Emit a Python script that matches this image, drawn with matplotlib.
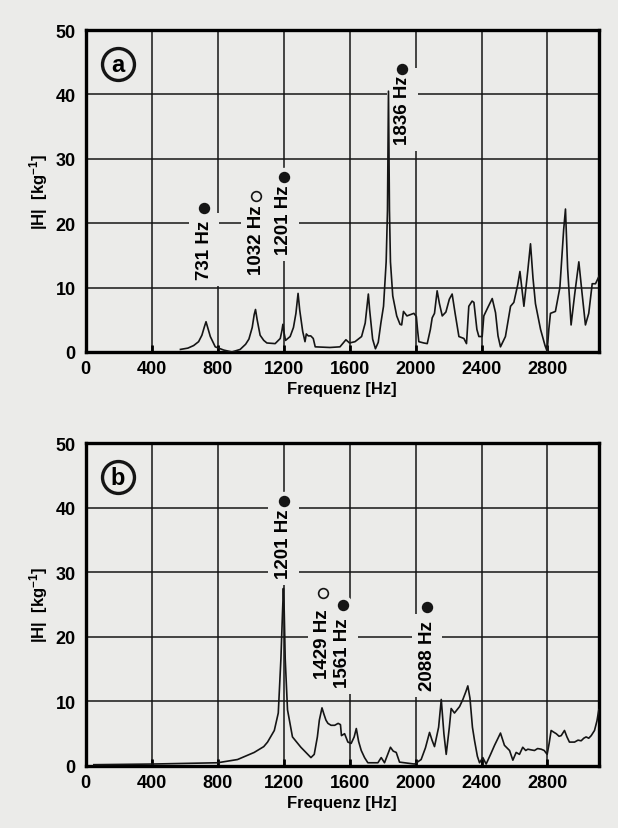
import numpy as np
import matplotlib
matplotlib.use('Agg')
import matplotlib.pyplot as plt

plt.rcParams['font.family'] = ['Liberation Sans', 'DejaVu Sans']
plt.rcParams['font.weight'] = 'bold'
plt.rcParams['mathtext.fontset'] = 'custom'
plt.rcParams['mathtext.rm'] = 'Liberation Sans:bold'
plt.rcParams['mathtext.bf'] = 'Liberation Sans:bold'
plt.rcParams['mathtext.default'] = 'regular'

# (a) Frequenzgang
freq_a = [575, 620, 655, 685, 705, 720, 730, 740, 756, 786, 837, 887, 937, 970, 990,
          1010, 1022, 1030, 1040, 1058, 1080, 1099, 1149, 1180, 1190, 1196, 1203, 1212,
          1240, 1260, 1275, 1288, 1298, 1316, 1330, 1338, 1350, 1365, 1380, 1392, 1481,
          1542, 1565, 1578, 1600, 1633, 1673, 1695, 1708, 1714, 1722, 1740, 1757, 1774,
          1790, 1806, 1822, 1830, 1836, 1842, 1848, 1862, 1886, 1906, 1916, 1927, 1948,
          1970, 1990, 2005, 2012, 2020, 2050, 2071, 2090, 2101, 2115, 2131, 2145, 2162,
          2184, 2205, 2222, 2240, 2263, 2293, 2309, 2323, 2343, 2354, 2372, 2384, 2404,
          2414, 2440, 2465, 2485, 2500, 2515, 2545, 2576, 2596, 2620, 2633, 2657, 2680,
          2697, 2712, 2727, 2758, 2785, 2798, 2808, 2818, 2848, 2875, 2898, 2909, 2922,
          2943, 2965, 2990, 3010, 3030, 3050, 3071, 3091, 3115]
H_a = [0.4, 0.6, 1.0, 1.6, 2.6, 3.9, 4.7, 3.8, 2.4, 0.8, 0.3, 0.0, 0.4, 1.2, 2.0,
       3.8, 5.8, 6.6, 5.0, 2.6, 1.8, 1.4, 1.3, 2.1, 3.3, 4.3, 3.0, 1.8,
       2.4, 3.8, 6.0, 9.1, 6.5, 3.2, 1.6, 2.8, 2.5, 2.5, 2.1, 0.8, 0.7,
       0.8, 1.5, 1.9, 1.4, 1.6, 2.4, 4.5, 7.5, 9.0, 6.5, 2.0, 0.5, 1.5,
       4.5, 7.1, 14.0, 22.0, 40.5, 22.0, 14.0, 8.7, 5.6, 4.3, 4.2, 6.3, 5.6,
       5.8, 6.0, 5.5, 3.5, 1.6, 1.4, 1.3, 3.5, 5.3, 6.0, 9.5, 7.5, 5.6,
       6.2, 8.2, 9.0, 6.0, 2.4, 2.1, 1.3, 7.1, 7.9, 7.7, 3.5, 2.4, 2.4,
       5.6, 7.0, 8.3, 6.1, 2.5, 0.8, 2.4, 7.1, 7.7, 10.5, 12.5, 7.1, 12.5,
       16.8, 11.5, 7.5, 3.5, 1.0, 0.1, 3.5, 6.0, 6.3, 10.0, 19.0, 22.2, 13.0,
       4.2, 9.0, 14.0, 9.0, 4.2, 6.0, 10.6, 10.6, 11.9]

# (b)
freq_b = [50, 400, 800, 921, 1022, 1080, 1103, 1144, 1168, 1184, 1194, 1199, 1204, 1210,
          1224, 1254, 1305, 1366, 1386, 1405, 1417, 1433, 1445, 1457, 1469, 1488, 1510,
          1531, 1545, 1551, 1570, 1590, 1610, 1628, 1641, 1655, 1671, 1691, 1711, 1772,
          1792, 1812, 1848, 1865, 1883, 1903, 1994, 2034, 2060, 2085, 2100, 2115, 2140,
          2156, 2172, 2186, 2205, 2216, 2236, 2267, 2287, 2305, 2317, 2330, 2345, 2358,
          2375, 2388, 2408, 2428, 2455, 2479, 2500, 2515, 2539, 2570, 2590, 2610, 2630,
          2650, 2668, 2681, 2700, 2721, 2740, 2762, 2780, 2798, 2810, 2822, 2840, 2853,
          2870, 2883, 2903, 2918, 2933, 2964, 2985, 3004, 3020, 3034, 3050, 3065, 3085,
          3100, 3111]
H_b = [0.2, 0.3, 0.5, 1.0, 2.1, 3.0, 3.7, 5.5, 8.2, 16.6, 24.0, 27.5, 24.0, 16.6,
       8.7, 4.5, 2.9, 1.3, 1.8, 4.5, 7.1, 9.0, 8.0, 7.1, 6.6, 6.3, 6.3,
       6.6, 6.4, 4.7, 5.0, 3.7, 3.5, 4.5, 5.8, 3.8, 2.4, 1.3, 0.5, 0.5,
       1.3, 0.5, 2.9, 2.3, 2.1, 0.6, 0.3, 1.0, 2.8, 5.2, 4.0, 3.0, 6.0,
       10.3, 5.0, 1.8, 6.0, 8.9, 8.2, 9.2, 10.3, 11.5, 12.4, 10.5, 6.0, 3.9,
       1.5, 0.5, 1.3, 0.3, 1.8, 3.2, 4.3, 5.1, 3.2, 2.4, 0.9, 2.1, 1.8,
       2.9, 2.4, 2.6, 2.5, 2.4, 2.7, 2.6, 2.4, 1.8, 3.5, 5.5, 5.2, 5.0,
       4.6, 4.7, 5.5, 4.5, 3.7, 3.7, 4.0, 3.9, 4.3, 4.5, 4.3, 4.7, 5.5,
       7.0, 8.7]

# Beschriftungen der Moden (Text, Lage, Punkt: gefuellt / offen)
lab_a = ['731 Hz', '1032 Hz', '1201 Hz', '1836 Hz']
lab_a_x = [720, 1036, 1201, 1921]
lab_a_y = [11.3, 12.1, 15.2, 32.3]
dot_a_y = [22.3, 24.3, 27.1, 44.0]
fill_a = [True, False, True, True]
lab_b = ['1201 Hz', '1429 Hz', '1561 Hz', '2088 Hz']
lab_b_x = [1200, 1438, 1560, 2071]
lab_b_y = [29.1, 13.6, 12.2, 11.7]
dot_b_y = [41.0, 26.8, 24.9, 24.6]
fill_b = [True, False, True, True]

bg = '#ebebe9'
ink = '#151515'
fig = plt.figure(figsize=[6.18, 8.29], dpi=100, facecolor=bg)
ax1 = fig.add_axes([0.1385, 0.5742, 0.8307, 0.3884])
ax2 = fig.add_axes([0.1385, 0.0748, 0.8307, 0.3896])

panels = [(ax1, freq_a, H_a, lab_a, lab_a_x, lab_a_y, dot_a_y, fill_a, 'a'),
          (ax2, freq_b, H_b, lab_b, lab_b_x, lab_b_y, dot_b_y, fill_b, 'b')]
for ax, f, h, labs, lx, ly, dy, filled, letter in panels:
    ax.set_facecolor(bg)
    ax.plot(f, h, color=ink, lw=1.2, zorder=6)
    ax.set_xlim(0, 3112)
    ax.set_ylim(0, 50)
    ax.set_xticks(np.arange(0, 3000, 400))
    ax.set_yticks(np.arange(0, 51, 10))
    ax.grid(True, color=ink, lw=1.1)
    ax.set_axisbelow(True)
    for s in ax.spines.values():
        s.set_linewidth(2.4)
    ax.tick_params(axis='x', direction='in', length=5, width=2, pad=6, labelsize=13)
    ax.tick_params(axis='y', length=0, pad=7, labelsize=13)
    ax.set_xlabel('Frequenz [Hz]', fontsize=12, fontweight='bold', labelpad=3)
    ax.set_ylabel('|H|  [kg$^{-1}$]', fontsize=12, fontweight='bold', labelpad=4)
    for t, x, y, yd, fl in zip(labs, lx, ly, dy, filled):
        ax.text(x, y, t, rotation=90, ha='center', va='bottom', fontsize=13.5,
                fontweight='bold', zorder=4,
                bbox=dict(boxstyle='square,pad=0.35', fc=bg, ec='none'))
        # Halo, damit das Gitter am Punkt unterbrochen ist
        ax.plot(x, yd, 'o', ms=14, mfc=bg, mec='none', zorder=4)
        ax.plot(x, yd, 'o', ms=7, mfc=ink if fl else bg, mec=ink, mew=1.2, zorder=5)
    # eingekreister Buchstabe
    ax.plot(0.063, 0.895, 'o', ms=23, mfc=bg, mec=ink, mew=2.4,
            transform=ax.transAxes, zorder=7)
    ax.text(0.063, 0.893, letter, transform=ax.transAxes, ha='center',
            va='center', fontsize=17, fontweight='bold', zorder=8)

fig.savefig('out.png', dpi=100, facecolor=bg)
